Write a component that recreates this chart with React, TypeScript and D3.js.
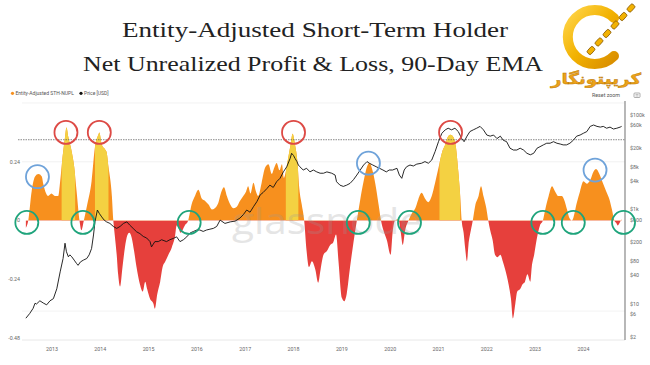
import * as d3 from "d3";

// Entity-adjusted STH-NUPL (90d EMA), [decimal year, value]
const nuplPoints: [number, number][] = [
  [2012.46, -0.03], [2012.51, 0.0], [2012.58, 0.12], [2012.65, 0.18], [2012.72, 0.19],
  [2012.79, 0.18], [2012.82, 0.15], [2012.88, 0.11], [2012.92, 0.1], [2012.99, 0.11],
  [2013.06, 0.1], [2013.13, 0.1], [2013.17, 0.16], [2013.22, 0.26], [2013.27, 0.34],
  [2013.3, 0.38], [2013.34, 0.34], [2013.41, 0.28], [2013.46, 0.22], [2013.51, 0.12],
  [2013.57, 0.0], [2013.61, -0.04], [2013.66, 0.0], [2013.73, 0.065], [2013.82, 0.16],
  [2013.89, 0.3], [2013.96, 0.35], [2013.98, 0.36], [2014.03, 0.31], [2014.1, 0.29],
  [2014.13, 0.28], [2014.17, 0.22], [2014.24, 0.1], [2014.27, 0.0], [2014.3, -0.06],
  [2014.34, -0.14], [2014.37, -0.22], [2014.41, -0.27], [2014.46, -0.19], [2014.51, -0.11],
  [2014.56, -0.06], [2014.6, -0.05], [2014.65, -0.07], [2014.7, -0.125], [2014.75, -0.19],
  [2014.82, -0.26], [2014.88, -0.29], [2014.93, -0.25], [2014.97, -0.28], [2015.03, -0.32],
  [2015.1, -0.34], [2015.13, -0.36], [2015.18, -0.3], [2015.24, -0.25], [2015.29, -0.19],
  [2015.34, -0.17], [2015.41, -0.14], [2015.48, -0.11], [2015.55, -0.06], [2015.58, -0.02],
  [2015.62, -0.03], [2015.66, -0.05], [2015.75, -0.02], [2015.82, 0.0], [2015.89, 0.065],
  [2015.96, 0.1], [2016.03, 0.126], [2016.1, 0.09], [2016.17, 0.08], [2016.24, 0.065],
  [2016.31, 0.045], [2016.37, 0.05], [2016.44, 0.07], [2016.51, 0.12], [2016.56, 0.136],
  [2016.62, 0.1], [2016.69, 0.065], [2016.75, 0.05], [2016.82, 0.055], [2016.89, 0.08],
  [2016.96, 0.1], [2017.02, 0.12], [2017.06, 0.14], [2017.11, 0.11], [2017.17, 0.154],
  [2017.22, 0.12], [2017.27, 0.1], [2017.34, 0.154], [2017.41, 0.215], [2017.48, 0.23],
  [2017.55, 0.19], [2017.6, 0.215], [2017.65, 0.235], [2017.71, 0.205], [2017.76, 0.23],
  [2017.8, 0.174], [2017.84, 0.2], [2017.89, 0.256], [2017.94, 0.31], [2017.98, 0.354],
  [2018.03, 0.31], [2018.08, 0.24], [2018.12, 0.13], [2018.17, 0.065], [2018.22, 0.0],
  [2018.27, -0.125], [2018.32, -0.19], [2018.38, -0.166], [2018.45, -0.2], [2018.51, -0.254],
  [2018.56, -0.2], [2018.62, -0.14], [2018.69, -0.125], [2018.76, -0.1], [2018.82, -0.09],
  [2018.88, -0.057], [2018.93, -0.166], [2019.0, -0.316], [2019.05, -0.33], [2019.1, -0.3],
  [2019.17, -0.19], [2019.24, -0.09], [2019.31, 0.0], [2019.38, 0.085], [2019.45, 0.16],
  [2019.52, 0.22], [2019.57, 0.235], [2019.64, 0.2], [2019.71, 0.13], [2019.76, 0.065],
  [2019.81, 0.0], [2019.86, -0.04], [2019.93, -0.08], [2020.01, -0.14], [2020.05, -0.05],
  [2020.1, 0.0], [2020.17, 0.005], [2020.22, -0.05], [2020.26, -0.1], [2020.31, -0.04],
  [2020.38, 0.0], [2020.45, 0.03], [2020.52, 0.05], [2020.58, 0.085], [2020.65, 0.113],
  [2020.72, 0.09], [2020.79, 0.075], [2020.86, 0.1], [2020.93, 0.154], [2021.0, 0.215],
  [2021.07, 0.276], [2021.14, 0.31], [2021.2, 0.344], [2021.25, 0.35], [2021.31, 0.34],
  [2021.36, 0.3], [2021.41, 0.2], [2021.45, 0.1], [2021.48, 0.0], [2021.52, -0.05],
  [2021.55, -0.11], [2021.59, -0.166], [2021.62, -0.1], [2021.67, -0.04], [2021.71, 0.0],
  [2021.76, 0.06], [2021.83, 0.1], [2021.88, 0.14], [2021.93, 0.1], [2021.99, 0.05],
  [2022.03, 0.0], [2022.07, -0.04], [2022.12, -0.08], [2022.17, -0.14], [2022.22, -0.15],
  [2022.28, -0.14], [2022.33, -0.166], [2022.38, -0.2], [2022.45, -0.26], [2022.5, -0.32],
  [2022.54, -0.4], [2022.59, -0.34], [2022.63, -0.29], [2022.69, -0.28], [2022.74, -0.26],
  [2022.79, -0.25], [2022.84, -0.22], [2022.9, -0.25], [2022.93, -0.19], [2022.98, -0.14],
  [2023.03, -0.08], [2023.1, -0.02], [2023.16, 0.0], [2023.21, 0.045], [2023.28, 0.1],
  [2023.35, 0.14], [2023.41, 0.12], [2023.48, 0.1], [2023.55, 0.1], [2023.6, 0.085],
  [2023.66, 0.045], [2023.71, 0.01], [2023.76, 0.0], [2023.79, 0.01], [2023.86, 0.07],
  [2023.93, 0.12], [2024.0, 0.16], [2024.07, 0.15], [2024.14, 0.165], [2024.21, 0.2],
  [2024.26, 0.21], [2024.33, 0.19], [2024.4, 0.154], [2024.47, 0.12], [2024.54, 0.085],
  [2024.59, 0.045], [2024.64, 0.0], [2024.68, -0.01], [2024.71, -0.02], [2024.76, -0.005],
  [2024.79, 0.005],
];

// BTC price in USD, [decimal year, price]
const pricePoints: [number, number][] = [
  [2012.46, 5], [2012.54, 6.3], [2012.61, 8.1], [2012.65, 10.4], [2012.68, 10],
  [2012.75, 11.7], [2012.82, 10.5], [2012.89, 9.6], [2012.96, 11.7], [2013.03, 13],
  [2013.1, 21], [2013.17, 48], [2013.23, 92], [2013.27, 194], [2013.3, 128],
  [2013.34, 100], [2013.37, 110], [2013.41, 100], [2013.46, 85], [2013.51, 72],
  [2013.54, 66], [2013.59, 78], [2013.65, 85], [2013.72, 92], [2013.77, 110],
  [2013.82, 150], [2013.86, 290], [2013.89, 550], [2013.94, 980], [2013.98, 830],
  [2014.03, 700], [2014.08, 600], [2014.13, 550], [2014.2, 510], [2014.27, 440],
  [2014.34, 400], [2014.41, 440], [2014.48, 510], [2014.55, 550], [2014.61, 470],
  [2014.68, 400], [2014.75, 340], [2014.82, 310], [2014.89, 270], [2014.96, 250],
  [2015.03, 210], [2015.06, 162], [2015.13, 210], [2015.2, 210], [2015.27, 230],
  [2015.37, 210], [2015.44, 230], [2015.51, 245], [2015.58, 265], [2015.65, 210],
  [2015.72, 230], [2015.79, 265], [2015.86, 320], [2015.93, 345], [2016.0, 370],
  [2016.06, 370], [2016.13, 345], [2016.2, 370], [2016.27, 385], [2016.34, 400],
  [2016.41, 440], [2016.48, 600], [2016.58, 510], [2016.69, 550], [2016.79, 570],
  [2016.89, 660], [2016.96, 780], [2017.03, 980], [2017.1, 880], [2017.17, 1150],
  [2017.24, 1470], [2017.31, 2050], [2017.37, 2300], [2017.45, 2800], [2017.51, 3300],
  [2017.58, 2950], [2017.65, 3900], [2017.72, 4600], [2017.79, 6300], [2017.86, 8100],
  [2017.93, 12200], [2017.96, 15600], [2018.0, 14000], [2018.03, 12200], [2018.07, 10400],
  [2018.1, 8800], [2018.13, 8100], [2018.2, 6900], [2018.27, 7500], [2018.34, 6300],
  [2018.41, 6900], [2018.48, 6300], [2018.55, 5900], [2018.62, 5900], [2018.69, 6300],
  [2018.79, 5900], [2018.86, 5400], [2018.89, 3900], [2018.96, 3300], [2019.03, 3100],
  [2019.1, 3300], [2019.17, 3600], [2019.24, 4300], [2019.31, 5400], [2019.38, 6900],
  [2019.45, 8800], [2019.52, 10400], [2019.57, 9600], [2019.64, 8800], [2019.71, 8100],
  [2019.78, 7500], [2019.85, 6900], [2019.92, 6300], [2019.98, 6900], [2020.05, 6900],
  [2020.14, 7500], [2020.19, 5400], [2020.24, 4600], [2020.29, 6900], [2020.34, 8100],
  [2020.41, 8800], [2020.48, 8400], [2020.55, 9200], [2020.65, 9600], [2020.72, 10400],
  [2020.79, 9600], [2020.86, 11200], [2020.93, 17000], [2021.0, 27500], [2021.07, 41500],
  [2021.14, 49000], [2021.2, 53000], [2021.27, 49000], [2021.34, 53000], [2021.41, 45000],
  [2021.48, 32000], [2021.53, 27500], [2021.59, 36000], [2021.65, 45000], [2021.72, 49000],
  [2021.79, 53000], [2021.86, 58000], [2021.93, 49000], [2022.0, 38000], [2022.07, 36000],
  [2022.14, 38000], [2022.21, 32000], [2022.28, 36000], [2022.34, 29500], [2022.41, 27500],
  [2022.48, 20000], [2022.55, 18300], [2022.62, 18300], [2022.69, 20000], [2022.76, 18300],
  [2022.83, 15600], [2022.9, 14500], [2022.97, 15600], [2023.04, 20000], [2023.1, 21500],
  [2023.17, 23500], [2023.24, 25500], [2023.31, 25500], [2023.38, 27500], [2023.45, 25500],
  [2023.52, 24500], [2023.58, 23500], [2023.65, 23500], [2023.72, 25500], [2023.79, 29500],
  [2023.86, 36000], [2023.93, 38000], [2024.0, 41500], [2024.07, 45000], [2024.14, 58000],
  [2024.21, 62000], [2024.28, 58000], [2024.35, 56000], [2024.41, 58000], [2024.48, 53000],
  [2024.55, 56000], [2024.62, 51000], [2024.69, 53000], [2024.76, 56000], [2024.79, 58000],
];

// periods drawn in yellow (euphoria)
const yellowZones: [number, number][] = [
  [2013.2, 2013.48],
  [2013.89, 2014.17],
  [2017.84, 2018.1],
  [2021.02, 2021.45],
];

const yearTicks = d3.range(2013, 2025);
const nuplTicks = [0.24, 0, -0.24, -0.48];
const gridLevels = [0.48, 0.24, -0.37];
const refLevel = 0.33;
const priceTicks = [100000, 60000, 20000, 8000, 4000, 1000, 600, 200, 80, 40, 10, 6, 2];
const priceTickLabels = ["$100k", "$60k", "$20k", "$8k", "$4k", "$1k", "$600", "$200", "$80", "$40", "$10", "$6", "$2"];

// annotation circles
const cycleTops: [number, number][] = [[2013.29, 0.36], [2013.98, 0.36], [2018.0, 0.36], [2021.25, 0.36]];
const localTops: [number, number][] = [[2012.7, 0.179], [2019.55, 0.234], [2024.24, 0.206]];
const zeroCrosses = [2012.48, 2013.64, 2015.84, 2019.34, 2020.4, 2023.16, 2023.79, 2024.83];
const crossLevel = -0.008;

const ORANGE = "#F7901E";
const YELLOW = "#F4D142";
const RED = "#E6403C";
const axisFont = "Roboto, 'Open Sans', sans-serif";

export default function App() {
  const W = 650;
  const H = 365;
  const left = 22;
  const right = 625;
  const top = 103;
  const bottom = 338;

  const x = d3.scaleLinear().domain([2012.38, 2024.86]).range([left, right]);
  const y = d3.scaleLinear().domain([-0.48, 0.48]).range([bottom, top]);
  const yp = d3.scaleLog().domain([2, 200000]).range([337, 101]);
  const zeroY = y(0);

  const area = d3
    .area<[number, number]>()
    .x((d) => x(d[0]))
    .y0(zeroY)
    .y1((d) => y(d[1]))
    .curve(d3.curveMonotoneX);
  const areaPath = area(nuplPoints) ?? "";

  const priceLine = d3
    .line<[number, number]>()
    .x((d) => x(d[0]))
    .y((d) => yp(d[1]));

  return (
    <svg
      width={W}
      height={H}
      viewBox={`0 0 ${W} ${H}`}
      style={{ position: "absolute", left: 0, top: 0, background: "#fff" }}
    >
      <defs>
        <clipPath id="posClip">
          <rect x={left} y={top - 20} width={right - left} height={zeroY - top + 20} />
        </clipPath>
        <clipPath id="negClip">
          <rect x={left} y={zeroY} width={right - left} height={bottom - zeroY + 10} />
        </clipPath>
        <clipPath id="yelClip">
          {yellowZones.map((z, i) => (
            <rect key={i} x={x(z[0])} y={top - 20} width={x(z[1]) - x(z[0])} height={zeroY - top + 20} />
          ))}
        </clipPath>
        <linearGradient id="gold" x1="0" y1="0" x2="1" y2="1">
          <stop offset="0" stopColor="#FFD54A" />
          <stop offset="0.5" stopColor="#F2B202" />
          <stop offset="1" stopColor="#D98E00" />
        </linearGradient>
      </defs>

      {/* title */}
      <g fontFamily="'Liberation Serif', serif" fontWeight={400} fill="#222" textAnchor="middle">
        <text x={315} y={37} fontSize={21} textLength={386} lengthAdjust="spacingAndGlyphs">
          Entity-Adjusted Short-Term Holder
        </text>
        <text x={313} y={71} fontSize={21} textLength={460} lengthAdjust="spacingAndGlyphs">
          Net Unrealized Profit &amp; Loss, 90-Day EMA
        </text>
      </g>

      {/* logo */}
      <g>
        <path
          d="M 614 18 A 27 27 0 1 0 614 56"
          fill="none"
          stroke="url(#gold)"
          strokeWidth={10}
          strokeLinecap="round"
        />
        {d3.range(6).map((i) => {
          const cx = 631 - i * 8;
          const cy = 8 + i * 8.5;
          return (
            <rect
              key={i}
              x={cx - 4}
              y={cy - 2.5}
              width={8}
              height={5}
              rx={1.5}
              transform={`rotate(-48 ${cx} ${cy})`}
              fill="#F2B202"
              stroke="#8a5a00"
              strokeWidth={0.8}
            />
          );
        })}
        <text
          x={596}
          y={84}
          fontSize={15}
          fontWeight="bold"
          fontFamily="'DejaVu Sans', sans-serif"
          textAnchor="middle"
          direction="rtl"
          fill="#EBA21A"
          stroke="#B87500"
          strokeWidth={0.4}
          textLength={90}
          lengthAdjust="spacingAndGlyphs"
        >
          کریپتونگار
        </text>
      </g>

      {/* legend */}
      <g fontFamily={axisFont} fontSize={5} fill="#555">
        <circle cx={12.5} cy={93.3} r={1.6} fill={ORANGE} />
        <text x={15.5} y={95}>Entity-Adjusted STH-NUPL</text>
        <circle cx={81} cy={93.3} r={1.6} fill="#111" />
        <text x={84} y={95}>Price [USD]</text>
        <text x={606} y={97} textAnchor="middle" fontSize={5.3}>Reset zoom</text>
        <rect x={634} y={93} width={6} height={4.5} rx={0.8} fill="none" stroke="#777" strokeWidth={0.6} />
        <line x1={635.5} y1={94.6} x2={638.5} y2={94.6} stroke="#777" strokeWidth={0.5} />
        <line x1={635.5} y1={96} x2={638.5} y2={96} stroke="#777" strokeWidth={0.5} />
      </g>

      {/* grid */}
      {gridLevels.map((g) => (
        <line key={g} x1={left} x2={right} y1={y(g)} y2={y(g)} stroke="#ececec" strokeWidth={0.7} />
      ))}
      <line x1={left} x2={right} y1={340} y2={340} stroke="#e2e2e2" strokeWidth={0.8} />

      {/* NUPL areas */}
      <path d={areaPath} fill={ORANGE} clipPath="url(#posClip)" />
      <path d={areaPath} fill={YELLOW} clipPath="url(#yelClip)" />
      <path d={areaPath} fill={RED} clipPath="url(#negClip)" />

      {/* reference level */}
      <line
        x1={left - 4}
        x2={right}
        y1={y(refLevel)}
        y2={y(refLevel)}
        stroke="#555"
        strokeWidth={0.7}
        strokeDasharray="1.5,1"
      />

      {/* watermark */}
      <text
        x={327}
        y={234}
        fontSize={36}
        fontFamily="'Open Sans', sans-serif"
        textAnchor="middle"
        fill="#9a9a9a"
        opacity={0.25}
        textLength={190}
        lengthAdjust="spacingAndGlyphs"
      >
        glassnode
      </text>

      {/* price */}
      <path d={priceLine(pricePoints) ?? ""} fill="none" stroke="#111" strokeWidth={0.9} strokeLinejoin="round" />

      {/* axes */}
      <line x1={right} x2={right} y1={101} y2={340} stroke="#888" strokeWidth={1.2} />
      <g fontFamily={axisFont} fontSize={5.3} fill="#666">
        {nuplTicks.map((t) => (
          <text key={t} x={20} y={y(t) + 1.8} textAnchor="end">
            {t === 0 ? "0" : t.toFixed(2)}
          </text>
        ))}
        {priceTicks.map((p, i) => (
          <text key={p} x={630} y={yp(p) + 1.8}>
            {priceTickLabels[i]}
          </text>
        ))}
        {yearTicks.map((yr) => (
          <text key={yr} x={x(yr)} y={351} textAnchor="middle">
            {yr}
          </text>
        ))}
      </g>

      {/* annotations */}
      <g fill="none" strokeWidth={1.8}>
        {cycleTops.map((d, i) => (
          <circle key={"r" + i} cx={x(d[0])} cy={y(d[1])} r={11.5} stroke="#DD4A45" />
        ))}
        {localTops.map((d, i) => (
          <circle key={"b" + i} cx={x(d[0])} cy={y(d[1])} r={11.5} stroke="#6FA3DA" />
        ))}
        {zeroCrosses.map((d, i) => (
          <circle key={"g" + i} cx={x(d)} cy={y(crossLevel)} r={11.5} stroke="#1FA47C" />
        ))}
      </g>
    </svg>
  );
}
